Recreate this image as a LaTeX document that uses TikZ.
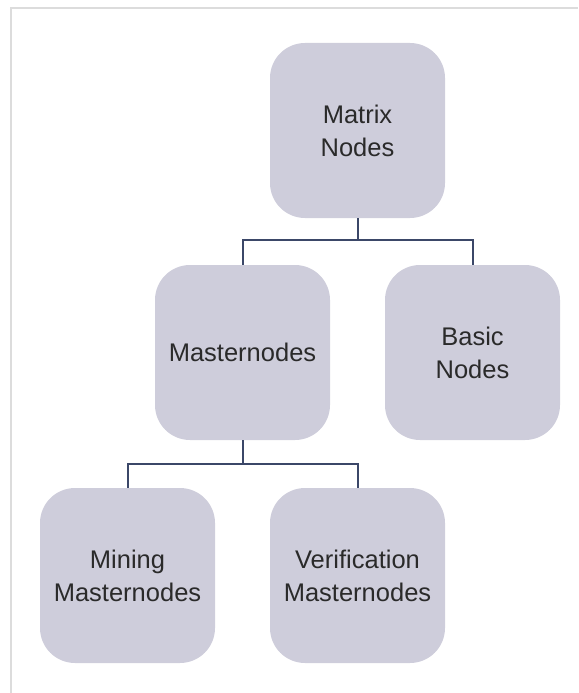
\documentclass[tikz,border=0pt]{standalone}
\usepackage{fontspec}
\setmainfont{Liberation Sans}
\usepackage{tikz}
\usetikzlibrary{positioning}
\definecolor{boxfill}{HTML}{CECDDB}
\definecolor{linkline}{HTML}{3B4768}
\definecolor{boxtext}{HTML}{2A2A2A}
\definecolor{framegray}{HTML}{DCDCDC}
\tikzset{
  nodebox/.style={rectangle,rounded corners=35pt,fill=boxfill,minimum width=175pt,minimum height=175pt,align=center,text=boxtext,font=\fontsize{25.5}{33}\selectfont,inner sep=0pt},
  link/.style={draw=linkline,line width=2pt}
}

\begin{document}
\begin{tikzpicture}[x=1pt,y=1pt]
  \useasboundingbox (0,0) rectangle (578,-693);
  \draw[framegray,line width=1.5pt] (11,-693) -- (11,-8) -- (578,-8);

  \node[nodebox] (matrix) at (357.5,-130.5) {Matrix\\Nodes};
  \node[nodebox] (master) at (242.5,-352.5) {Masternodes};
  \node[nodebox] (basic) at (472.5,-352.5) {Basic\\Nodes};
  \node[nodebox] (mining) at (127.5,-575.5) {Mining\\Masternodes};
  \node[nodebox] (verif) at (357.5,-575.5) {Verification\\Masternodes};

  \draw[link] (matrix.south) -- ++(0,-22) coordinate (split1);
  \draw[link] (split1) -| (master.north);
  \draw[link] (split1) -| (basic.north);
  \draw[link] (master.south) -- ++(0,-24) coordinate (split2);
  \draw[link] (split2) -| (mining.north);
  \draw[link] (split2) -| (verif.north);
\end{tikzpicture}
\end{document}
